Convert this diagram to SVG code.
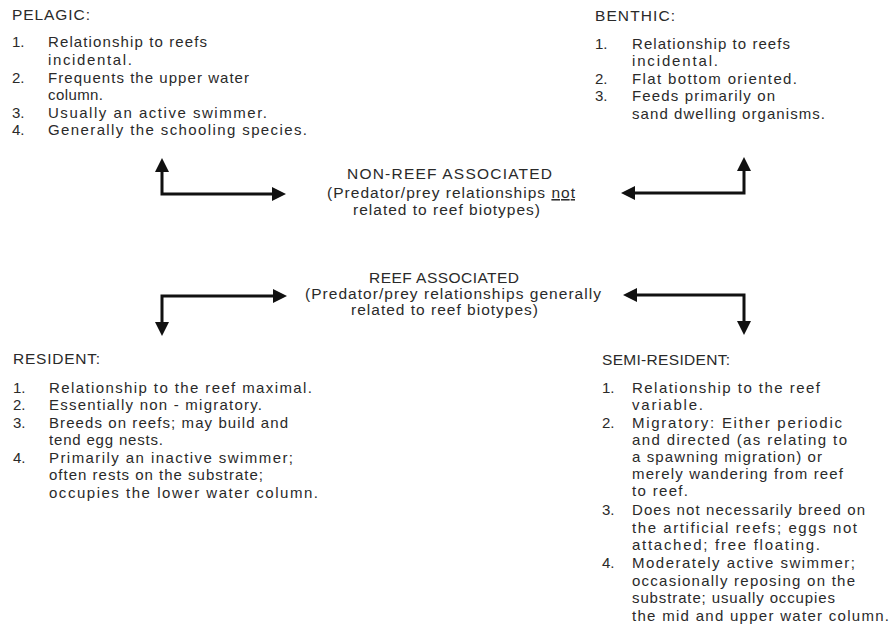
<svg xmlns="http://www.w3.org/2000/svg" width="891" height="638" viewBox="0 0 891 638">
<style>
.t{font-family:"Liberation Sans",Arial,sans-serif;font-size:15px;fill:#2a2a2a}
.h{font-family:"Liberation Sans",Arial,sans-serif;font-size:15.5px;fill:#2a2a2a}
.c{font-family:"Liberation Sans",Arial,sans-serif;font-size:15.5px;fill:#2a2a2a}
.ln{fill:none;stroke:#111;stroke-width:3}
</style>
<defs>
<marker id="ah" viewBox="0 0 14 14" refX="10" refY="7" markerWidth="14" markerHeight="14" markerUnits="userSpaceOnUse" orient="auto-start-reverse">
<path d="M0,0 L14,7 L0,14 z" fill="#111"/>
</marker>
</defs>
<rect width="891" height="638" fill="#fff"/>

<g id="pelagic">
<text class="h" x="12" y="20" textLength="78" lengthAdjust="spacing">PELAGIC:</text>
<text class="t" x="12" y="47">1.</text>
<text class="t" x="48" y="47" textLength="159" lengthAdjust="spacing">Relationship to reefs</text>
<text class="t" x="48" y="65" textLength="84" lengthAdjust="spacing">incidental.</text>
<text class="t" x="12" y="83">2.</text>
<text class="t" x="48" y="83" textLength="201" lengthAdjust="spacing">Frequents the upper water</text>
<text class="t" x="48" y="100" textLength="55" lengthAdjust="spacing">column.</text>
<text class="t" x="12" y="118">3.</text>
<text class="t" x="48" y="118" textLength="219" lengthAdjust="spacing">Usually an active swimmer.</text>
<text class="t" x="12" y="135">4.</text>
<text class="t" x="48" y="135" textLength="259" lengthAdjust="spacing">Generally the schooling species.</text>
</g>

<g id="benthic">
<text class="h" x="595" y="21" textLength="80" lengthAdjust="spacing">BENTHIC:</text>
<text class="t" x="595" y="49">1.</text>
<text class="t" x="632" y="49" textLength="158" lengthAdjust="spacing">Relationship to reefs</text>
<text class="t" x="632" y="66" textLength="86" lengthAdjust="spacing">incidental.</text>
<text class="t" x="595" y="84">2.</text>
<text class="t" x="632" y="84" textLength="165" lengthAdjust="spacing">Flat bottom oriented.</text>
<text class="t" x="595" y="101">3.</text>
<text class="t" x="632" y="101" textLength="143" lengthAdjust="spacing">Feeds primarily on</text>
<text class="t" x="632" y="119" textLength="193" lengthAdjust="spacing">sand dwelling organisms.</text>
</g>

<g id="non-reef">
<text class="c" x="347" y="179" textLength="205" lengthAdjust="spacing">NON-REEF ASSOCIATED</text>
<text class="c" x="327" y="198" textLength="248" lengthAdjust="spacing">(Predator/prey relationships <tspan text-decoration="underline">not</tspan></text>
<text class="c" x="353" y="215" textLength="187" lengthAdjust="spacing">related to reef biotypes)</text>
</g>

<g id="reef">
<text class="c" x="369" y="283" textLength="150" lengthAdjust="spacing">REEF ASSOCIATED</text>
<text class="c" x="305" y="299" textLength="296" lengthAdjust="spacing">(Predator/prey relationships generally</text>
<text class="c" x="351" y="315" textLength="187" lengthAdjust="spacing">related to reef biotypes)</text>
</g>

<g id="resident">
<text class="h" x="13" y="364" textLength="87" lengthAdjust="spacing">RESIDENT:</text>
<text class="t" x="13" y="393">1.</text>
<text class="t" x="49" y="393" textLength="263" lengthAdjust="spacing">Relationship to the reef maximal.</text>
<text class="t" x="13" y="410">2.</text>
<text class="t" x="49" y="410" textLength="213" lengthAdjust="spacing">Essentially non - migratory.</text>
<text class="t" x="13" y="428">3.</text>
<text class="t" x="49" y="428" textLength="239" lengthAdjust="spacing">Breeds on reefs; may build and</text>
<text class="t" x="49" y="445" textLength="114" lengthAdjust="spacing">tend egg nests.</text>
<text class="t" x="13" y="463">4.</text>
<text class="t" x="49" y="463" textLength="244" lengthAdjust="spacing">Primarily an inactive swimmer;</text>
<text class="t" x="49" y="480" textLength="214" lengthAdjust="spacing">often rests on the substrate;</text>
<text class="t" x="49" y="498" textLength="269" lengthAdjust="spacing">occupies the lower water column.</text>
</g>

<g id="semi-resident">
<text class="h" x="602" y="365" textLength="128" lengthAdjust="spacing">SEMI-RESIDENT:</text>
<text class="t" x="602" y="393">1.</text>
<text class="t" x="632" y="393" textLength="188" lengthAdjust="spacing">Relationship to the reef</text>
<text class="t" x="632" y="410" textLength="71" lengthAdjust="spacing">variable.</text>
<text class="t" x="602" y="428">2.</text>
<text class="t" x="632" y="428" textLength="210" lengthAdjust="spacing">Migratory:  Either periodic</text>
<text class="t" x="632" y="445" textLength="215" lengthAdjust="spacing">and directed (as relating to</text>
<text class="t" x="632" y="462" textLength="190" lengthAdjust="spacing">a spawning migration) or</text>
<text class="t" x="632" y="479" textLength="211" lengthAdjust="spacing">merely wandering from reef</text>
<text class="t" x="632" y="496" textLength="56" lengthAdjust="spacing">to reef.</text>
<text class="t" x="602" y="515">3.</text>
<text class="t" x="632" y="515" textLength="233" lengthAdjust="spacing">Does not necessarily breed on</text>
<text class="t" x="632" y="533" textLength="225" lengthAdjust="spacing">the artificial reefs; eggs not</text>
<text class="t" x="632" y="550" textLength="188" lengthAdjust="spacing">attached; free floating.</text>
<text class="t" x="602" y="568">4.</text>
<text class="t" x="632" y="568" textLength="223" lengthAdjust="spacing">Moderately active swimmer;</text>
<text class="t" x="632" y="586" textLength="223" lengthAdjust="spacing">occasionally reposing on the</text>
<text class="t" x="632" y="603" textLength="203" lengthAdjust="spacing">substrate; usually occupies</text>
<text class="t" x="632" y="621" textLength="257" lengthAdjust="spacing">the mid and upper water column.</text>
</g>

<g id="connectors">
<path class="ln" d="M162,162 V194 H282" marker-start="url(#ah)" marker-end="url(#ah)"/>
<path class="ln" d="M744,161 V193 H625" marker-start="url(#ah)" marker-end="url(#ah)"/>
<path class="ln" d="M283,296 H162 V332" marker-start="url(#ah)" marker-end="url(#ah)"/>
<path class="ln" d="M627,295 H744 V331" marker-start="url(#ah)" marker-end="url(#ah)"/>
</g>
</svg>
